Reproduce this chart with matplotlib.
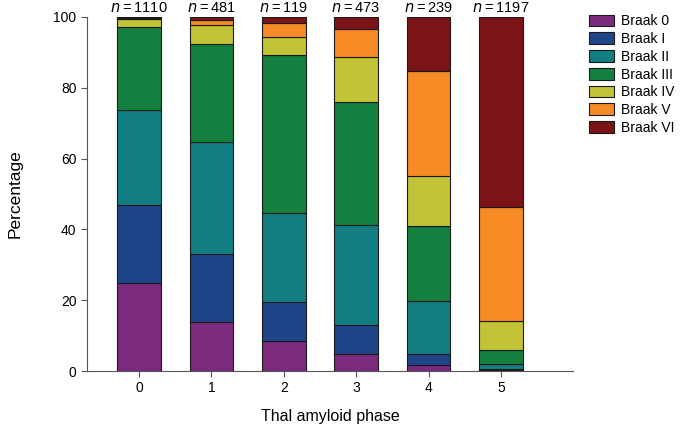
import matplotlib.pyplot as plt
import numpy as np

plt.rcParams['font.family'] = ['Liberation Sans', 'DejaVu Sans']

phases = ['0', '1', '2', '3', '4', '5']
n_counts = [1110, 481, 119, 473, 239, 1197]
stages = ['Braak 0', 'Braak I', 'Braak II', 'Braak III', 'Braak IV', 'Braak V', 'Braak VI']
colors = ['#7b2a7e', '#1f4488', '#137e82', '#13803f', '#c2c337', '#f68a24', '#7b1416']

# percentage of each stage per phase
braak0 = [25.0, 13.8, 8.4, 4.7, 1.6, 0.3]
braak1 = [21.8, 19.2, 11.0, 8.2, 3.1, 0.3]
braak2 = [26.9, 31.8, 25.1, 28.3, 15.0, 1.3]
braak3 = [23.4, 27.5, 44.8, 34.7, 21.3, 4.0]
braak4 = [2.2, 5.3, 5.0, 12.9, 14.2, 8.2]
braak5 = [0.5, 1.6, 4.1, 7.8, 29.5, 32.3]
braak6 = [0.2, 0.8, 1.6, 3.4, 15.3, 53.6]
values = [braak0, braak1, braak2, braak3, braak4, braak5, braak6]

fig = plt.figure(figsize=(6.8, 4.33), dpi=100)
ax = fig.add_axes([0.128, 0.143, 0.715, 0.818])

x = np.arange(len(phases))
bottom = np.zeros(len(phases))
for lab, vals, c in zip(stages, values, colors):
    ax.bar(x, vals, bottom=bottom, width=0.6, color=c, edgecolor='#1a1a1a',
           linewidth=0.8, label=lab)
    bottom += np.array(vals)

for i, n in enumerate(n_counts):
    ax.text(x[i], 100.6, r'$n$' + '\u2009=\u2009' + str(n), ha='center', va='bottom', fontsize=10.5)

ax.set_xlim(-0.72, 6.0)
ax.set_ylim(0, 100)
ax.set_xticks(x)
ax.set_xticklabels(phases)
ax.set_yticks([0, 20, 40, 60, 80, 100])
ax.tick_params(labelsize=10, color='#555555', length=4)
for s in ['top', 'right']:
    ax.spines[s].set_visible(False)
for s in ['left', 'bottom']:
    ax.spines[s].set_color('#555555')
ax.set_xlabel('Thal amyloid phase', fontsize=11.5, labelpad=10)
ax.set_ylabel('Percentage', fontsize=12.5, labelpad=22)

fig.legend(loc='upper left', bbox_to_anchor=(0.866, 0.967), frameon=False,
           fontsize=10, handlelength=1.8, handleheight=0.9, labelspacing=0.27,
           handletextpad=0.5, borderpad=0, borderaxespad=0)

fig.savefig('out.png', dpi=100)
